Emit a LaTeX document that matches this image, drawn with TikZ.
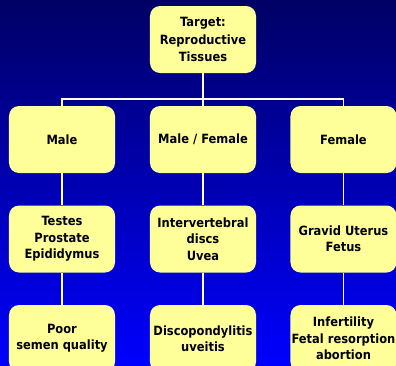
\documentclass[tikz,border=0pt]{standalone}
\usepackage{fontspec}
\setmainfont{DejaVu Sans}
\newfontfamily\boxfont{DejaVu Sans Condensed}
\usepackage{tikz}
\usetikzlibrary{calc}
\definecolor{bgtop}{RGB}{0,0,100}
\definecolor{bgbottom}{RGB}{0,0,255}
\definecolor{boxyellow}{RGB}{255,255,153}
\tikzset{
  organ/.style={fill=boxyellow, rounded corners=10bp, minimum width=106bp,
    minimum height=67bp, inner sep=1pt, align=center,
    font=\boxfont\fontsize{12.8}{16.5}\selectfont\bfseries},  % yellow box
  link/.style={draw=white, line width=1.3pt}                  % white connector
}
\newcommand{\ColA}{62}
\newcommand{\ColB}{203}
\newcommand{\ColC}{343.5}

\begin{document}
\begin{tikzpicture}[x=1bp, y=-1bp]
  \useasboundingbox (0,0) rectangle (396,366);
  % background, dark blue at top to bright blue at bottom
  \shade[top color=bgtop, bottom color=bgbottom] (0,0) rectangle (396,366);
  \node[organ, font=\boxfont\fontsize{12.8}{17.5}\selectfont\bfseries]
    (target) at (\ColB,39.5) {Target:\\Reproductive\\Tissues};
  % first row
  \node[organ] (male)   at (\ColA,139.5) {Male};
  \node[organ] (both)   at (\ColB,139.5) {Male / Female};
  \node[organ] (female) at (\ColC,139.5) {Female};
  % second row
  \node[organ] (testes) at (\ColA,239) {Testes\\Prostate\\Epididymus};
  \node[organ] (discs)  at (\ColB,239) {Intervertebral\\discs\\Uvea};
  \node[organ] (uterus) at (\ColC,239) {Gravid Uterus\\Fetus};
  % third row, cut by the bottom edge
  \node[organ] (semen)  at (\ColA,338.5) {Poor\\semen quality};
  \node[organ] (spondy) at (\ColB,338.5) {Discopondylitis\\uveitis};
  \node[organ] (infert) at (\ColC,338.5) {Infertility\\Fetal resorption\\abortion};
  % connectors
  \coordinate (bus) at (\ColB,99);
  \draw[link] (target) -- (both);
  \draw[link] (male.north) |- (bus) -| (female.north);
  \foreach \a/\b in {male/testes, testes/semen, both/discs, discs/spondy,
                     female/uterus, uterus/infert}
    \draw[link] (\a) -- (\b);
\end{tikzpicture}
\end{document}
